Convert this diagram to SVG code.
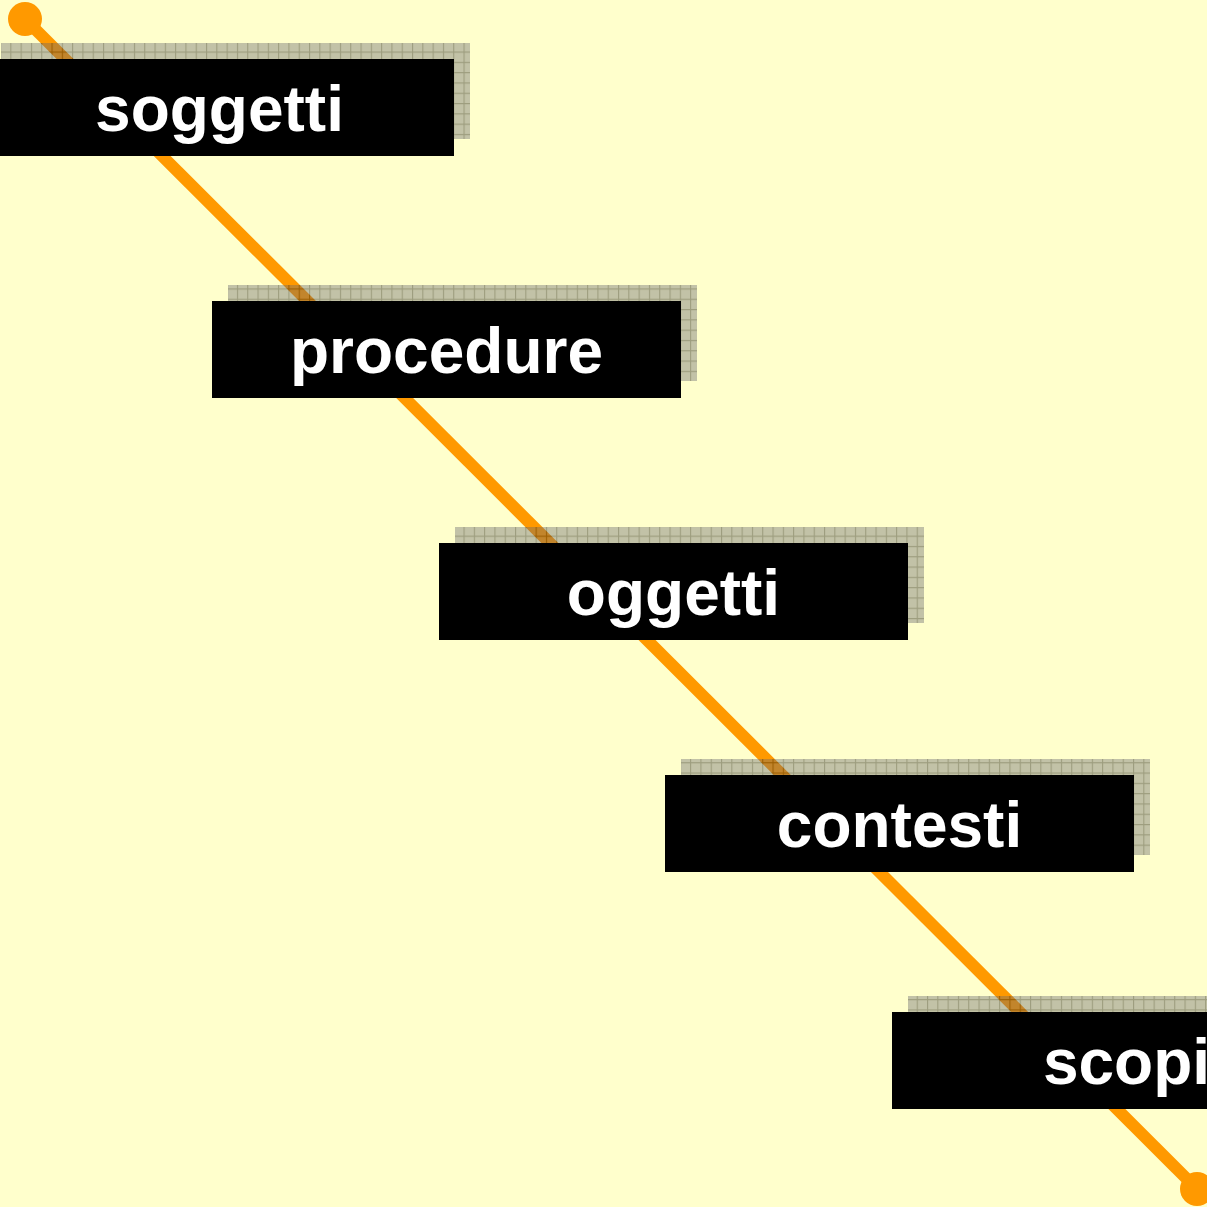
<svg xmlns="http://www.w3.org/2000/svg" width="1207" height="1207" viewBox="0 0 1207 1207">
<defs>
<pattern id="grid" x="0" y="0" width="10.3" height="10.3" patternUnits="userSpaceOnUse">
<rect width="10.3" height="10.3" fill="#67676f"/>
<path d="M0 0.5H10.3M0.5 0V10.3" stroke="#0a0a0a" stroke-width="1.2" fill="none"/>
</pattern>
<style>
.shadow{fill:url(#grid);opacity:0.4}
.box{fill:#000}
.lbl{fill:#fff;font-family:"Liberation Sans",Arial,sans-serif;font-weight:bold;font-size:64px;text-anchor:middle}
</style>
</defs>
<rect width="1207" height="1207" fill="#ffffcc"/>
<g id="connectors">
<line x1="25" y1="19" x2="1197" y2="1189" stroke="#ff9900" stroke-width="12"/>
<circle cx="25" cy="19" r="17" fill="#ff9900"/>
<circle cx="1197" cy="1189" r="17" fill="#ff9900"/>
</g>
<g id="node1"><rect class="shadow" x="1" y="43" width="469" height="96"/><rect class="box" x="-15" y="59" width="469" height="97"/><text class="lbl" x="219.5" y="131">soggetti</text></g>
<g id="node2"><rect class="shadow" x="228" y="285" width="469" height="96"/><rect class="box" x="212" y="301" width="469" height="97"/><text class="lbl" x="446.5" y="373">procedure</text></g>
<g id="node3"><rect class="shadow" x="455" y="527" width="469" height="96"/><rect class="box" x="439" y="543" width="469" height="97"/><text class="lbl" x="673.5" y="615">oggetti</text></g>
<g id="node4"><rect class="shadow" x="681" y="759" width="469" height="96"/><rect class="box" x="665" y="775" width="469" height="97"/><text class="lbl" x="899.5" y="847">contesti</text></g>
<g id="node5"><rect class="shadow" x="908" y="996" width="469" height="96"/><rect class="box" x="892" y="1012" width="469" height="97"/><text class="lbl" x="1126.5" y="1084">scopi</text></g>
</svg>
